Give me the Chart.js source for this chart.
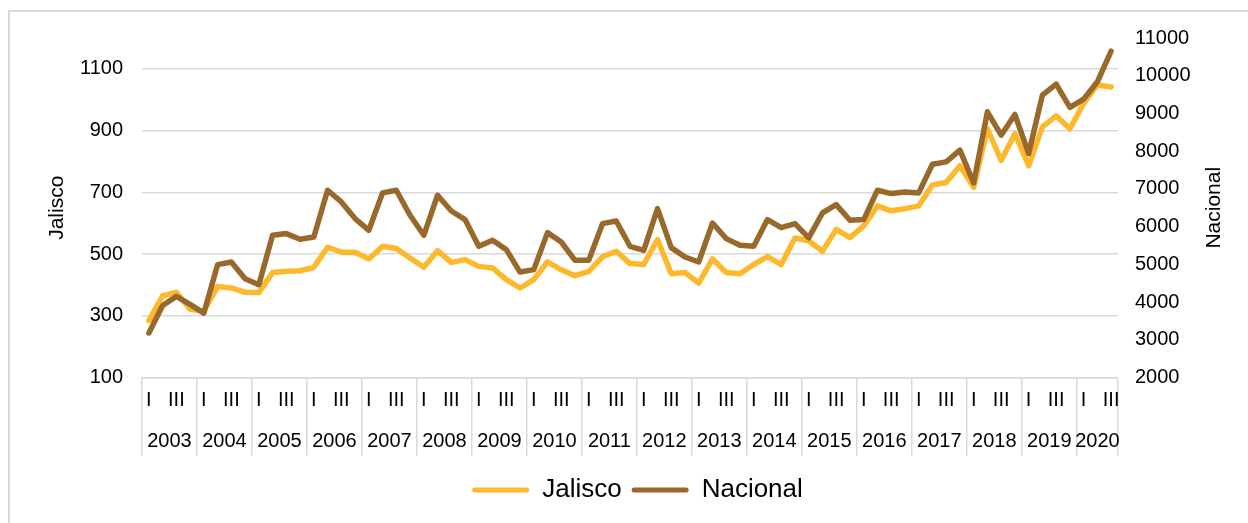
<!DOCTYPE html>
<html>
<head>
<meta charset="utf-8">
<script src="https://cdn.jsdelivr.net/npm/chart.js@4"></script>
<style>
  body { margin: 0; background: #fff; overflow: hidden; }
  #marco { position: absolute; left: 8px; top: 10px; width: 1400px; height: 700px; border: 2px solid #d9d9d9; }
  #grafica { position: absolute; left: 0; top: 0; }
</style>
</head>
<body>
<div id="marco"></div>
<canvas id="grafica" width="1248" height="523"></canvas>
<script>
// Años y trimestres (2020 solo llega al III trimestre)
const anios = [2003, 2004, 2005, 2006, 2007, 2008, 2009, 2010, 2011, 2012, 2013, 2014, 2015, 2016, 2017, 2018, 2019, 2020];
const trimestres = ["I", "II", "III", "IV"];
const etiquetasTrimestre = ["I", "", "III", ""];

const jalisco = [
  284, 365, 376, 321, 315, 395, 390, 376, 375, 440,
  444, 446, 457, 522, 506, 506, 484, 525, 518, 487,
  457, 511, 473, 482, 460, 455, 417, 390, 417, 475,
  449, 430, 444, 491, 509, 469, 466, 547, 436, 440,
  406, 484, 440, 436, 466, 492, 466, 552, 543, 509,
  580, 553, 591, 656, 640, 647, 656, 724, 732, 786,
  716, 906, 803, 890, 786, 912, 948, 906, 988, 1048,
  1041
];

const nacional = [
  3180, 3910, 4150, 3940, 3707, 4992, 5061, 4620, 4461, 5770,
  5815, 5663, 5725, 6964, 6654, 6213, 5902, 6893, 6964, 6300,
  5770, 6831, 6415, 6186, 5478, 5637, 5390, 4795, 4859, 5841,
  5592, 5106, 5106, 6080, 6149, 5478, 5372, 6478, 5443, 5194,
  5061, 6096, 5682, 5504, 5478, 6186, 5974, 6080, 5700, 6362,
  6584, 6168, 6186, 6964, 6876, 6920, 6893, 7654, 7716, 8026,
  7158, 9043, 8424, 8973, 7937, 9487, 9779, 9159, 9380, 9840,
  10650
];

const ticksJalisco = [100, 300, 500, 700, 900, 1100];
const ticksNacional = [2000, 3000, 4000, 5000, 6000, 7000, 8000, 9000, 10000, 11000];

// etiquetas de categoría: trimestre + año
const etiquetas = [];
anios.forEach(a => trimestres.forEach(t => etiquetas.push(t + " " + a)));
etiquetas.length = jalisco.length;

Chart.defaults.font.family = "'Liberation Sans', Arial, sans-serif";
Chart.defaults.color = "#000";

// Años debajo de los trimestres y títulos de los ejes
const extras = {
  id: "extras",
  afterDraw(chart) {
    const ctx = chart.ctx;
    const x = chart.scales.x;
    const area = chart.chartArea;
    ctx.save();
    ctx.fillStyle = "#000";
    ctx.font = "20px 'Liberation Sans', Arial, sans-serif";
    ctx.textAlign = "center";
    ctx.textBaseline = "middle";
    anios.forEach((a, k) => {
      const ini = k * 4;
      const fin = Math.min(k * 4 + 3, etiquetas.length - 1);
      if (ini > fin) return;
      const cx = (x.getPixelForValue(ini) + x.getPixelForValue(fin)) / 2;
      ctx.fillText(String(a), cx, x.top + 64);
    });
    ctx.font = "21px 'Liberation Sans', Arial, sans-serif";
    const cy = (area.top + area.bottom) / 2;
    [["Jalisco", 57], ["Nacional", 1214]].forEach(([t, tx]) => {
      ctx.save();
      ctx.translate(tx, cy);
      ctx.rotate(-Math.PI / 2);
      ctx.fillText(t, 0, 0);
      ctx.restore();
    });
    ctx.restore();
  }
};

new Chart(document.getElementById("grafica"), {
  type: "line",
  data: {
    labels: etiquetas,
    datasets: [
      {
        label: "Jalisco",
        data: jalisco,
        yAxisID: "y",
        borderColor: "#FDB92B",
        backgroundColor: "#FDB92B",
        borderWidth: 5.5,
        pointRadius: 0,
        tension: 0,
        borderCapStyle: "round",
        borderJoinStyle: "round",
        order: 1
      },
      {
        label: "Nacional",
        data: nacional,
        yAxisID: "y2",
        borderColor: "#98692B",
        backgroundColor: "#98692B",
        borderWidth: 5.5,
        pointRadius: 0,
        tension: 0,
        borderCapStyle: "round",
        borderJoinStyle: "round",
        order: 0
      }
    ]
  },
  options: {
    responsive: false,
    animation: false,
    devicePixelRatio: 1,
    layout: { padding: { top: 38, left: 27, right: 0, bottom: 10 } },
    scales: {
      x: {
        offset: true,
        grid: {
          offset: true,
          drawOnChartArea: false,
          drawTicks: true,
          tickLength: 78,
          lineWidth: 1.5,
          color: c => (c.index === undefined || c.index % 4 === 0) ? "#d9d9d9" : "rgba(0,0,0,0)"
        },
        border: { color: "#d9d9d9", width: 1.5 },
        ticks: {
          autoSkip: false,
          maxRotation: 0,
          minRotation: 0,
          padding: -67,
          font: { size: 20 },
          callback: (v, i) => etiquetasTrimestre[i % 4]
        },
        afterFit: s => { s.height = 89.5; }
      },
      y: {
        position: "left",
        min: 100,
        max: 1200,
        afterBuildTicks: s => { s.ticks = ticksJalisco.map(v => ({ value: v })); },
        grid: { color: "#d9d9d9", lineWidth: 1.5, drawTicks: false },
        border: { display: false },
        ticks: { padding: 19, font: { size: 20 }, callback: v => String(v) },
        afterFit: s => { s.width = 115; }
      },
      y2: {
        position: "right",
        min: 2000,
        max: 11000,
        afterBuildTicks: s => { s.ticks = ticksNacional.map(v => ({ value: v })); },
        grid: { drawOnChartArea: false, drawTicks: false },
        border: { display: false },
        ticks: { padding: 17, font: { size: 20 }, callback: v => String(v) },
        afterFit: s => { s.width = 130; }
      }
    },
    plugins: {
      title: { display: false },
      tooltip: { enabled: false },
      legend: {
        position: "bottom",
        labels: {
          boxWidth: 57,
          boxHeight: 5,
          padding: 10,
          font: { size: 26 },
          color: "#000",
          useBorderRadius: true,
          borderRadius: 2.5,
          generateLabels: chart => Chart.defaults.plugins.legend.labels.generateLabels(chart)
            .map(l => Object.assign(l, { lineWidth: 0 })),
          sort: (a, b) => a.datasetIndex - b.datasetIndex
        }
      }
    }
  },
  plugins: [extras]
});
</script>
</body>
</html>
